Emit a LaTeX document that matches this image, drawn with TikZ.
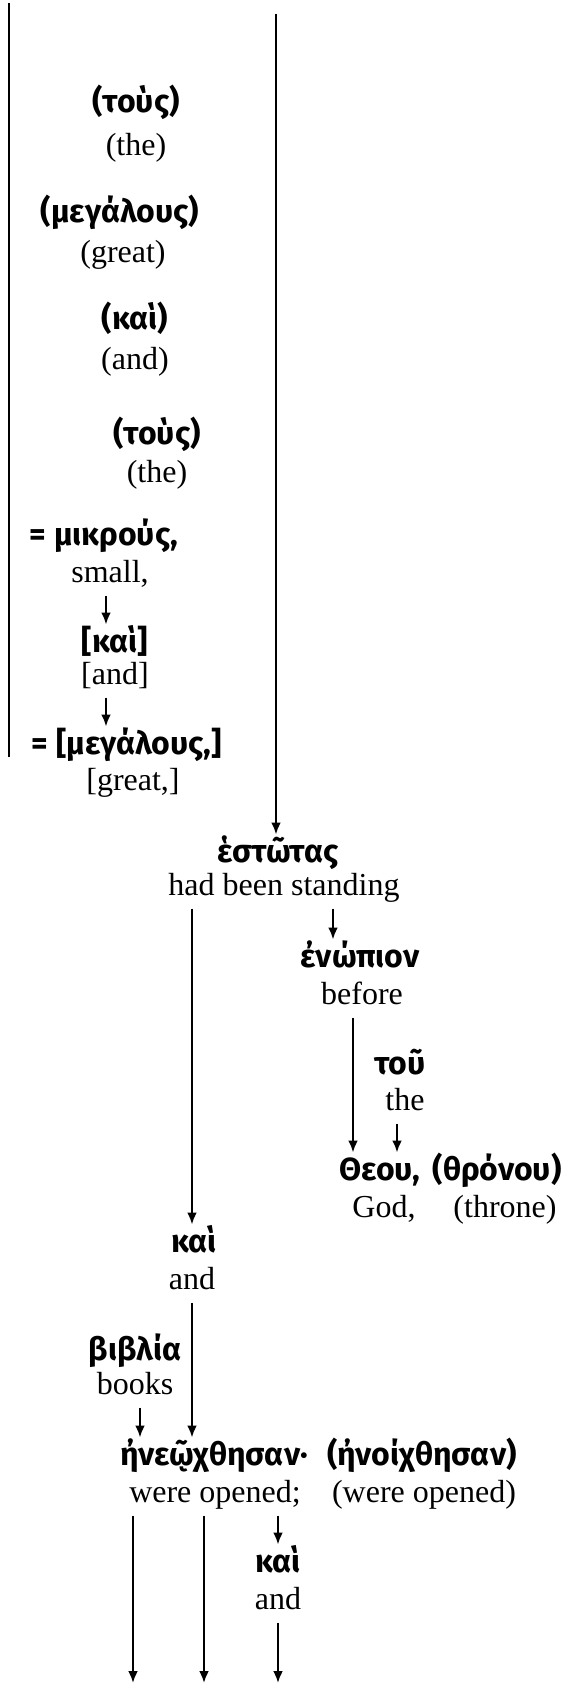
\documentclass[tikz,border=0pt]{standalone}
\usepackage{fontspec}
\setmainfont{Liberation Serif}
\newfontfamily\gk{Fira Sans}
\usetikzlibrary{arrows.meta}
\tikzset{gr/.style={font=\gk\bfseries\fontsize{16}{18}\selectfont, inner sep=0pt, outer ysep=3pt, text height=11pt, text depth=3.5pt},
         en/.style={font=\fontsize{16}{18}\selectfont, inner sep=0pt, outer ysep=3pt, text height=11pt, text depth=3.5pt},
         link/.style={line width=1.4pt},
         arr/.style={line width=1.4pt, -{Latex[length=6pt,width=5pt]}}}

\begin{document}
\begin{tikzpicture}[x=0.5pt,y=-0.5pt]
    \useasboundingbox (0,0) rectangle (562,1685);
    \node[gr] (tousA) at (136,105) {(τοὺς)};
    \node[en] (tousAe) at (136,148) {(the)};
    \node[gr] (megA) at (120,215) {(μεγάλους)};
    \node[en] (megAe) at (123,255) {(great)};
    \node[gr] (kaiA) at (135,322) {(καὶ)};
    \node[en] (kaiAe) at (135,362) {(and)};
    \node[gr] (tousB) at (157,437) {(τοὺς)};
    \node[en] (tousBe) at (157,475) {(the)};
    \node[gr] (mikrous) at (104,538) {= μικρούς,};
    \node[en] (mikrouse) at (110,575) {small,};
    \node[gr] (kaiB) at (115,645) {[καὶ]};
    \node[en] (kaiBe) at (115,677) {[and]};
    \node[gr] (megB) at (127,747) {= [μεγάλους,]};
    \node[en] (megBe) at (133,783) {[great,]};
    \node[gr] (estotas) at (278,855) {ἑστῶτας};
    \node[en] (estotase) at (284,888) {had been standing};
    \node[gr] (enopion) at (360,960) {ἐνώπιον};
    \node[en] (enopione) at (362,997) {before};
    \node[gr] (tou) at (400,1067) {τοῦ};
    \node[en] (toue) at (405,1103) {the};
    \node[gr] (theou) at (380,1173) {Θεου,};
    \node[en] (theoue) at (384,1210) {God,};
    \node[gr] (thronou) at (497,1173) {(θρόνου)};
    \node[en] (thronoue) at (505,1210) {(throne)};
    \node[gr] (kaiC) at (194,1245) {καὶ};
    \node[en] (kaiCe) at (192,1282) {and};
    \node[gr] (biblia) at (135,1353) {βιβλία};
    \node[en] (bibliae) at (135,1387) {books};
    \node[gr] (eneo) at (214,1458) {ἠνεῷχθησαν·};
    \node[en] (eneoe) at (215,1495) {were opened;};
    \node[gr] (enoi) at (422,1458) {(ἠνοίχθησαν)};
    \node[en] (enoie) at (424,1495) {(were opened)};
    \node[gr] (kaiD) at (278,1565) {καὶ};
    \node[en] (kaiDe) at (278,1602) {and};

    \coordinate (topL) at (9,3);
    \coordinate (endL) at (9,757);
    \coordinate (topR) at (276,14);
    \draw[link] (topL) -- (endL);
    \draw[arr] (topR) -- (topR |- estotas.north);
    \draw[arr] ([xshift=-2pt]mikrouse.south) -- ([xshift=-2pt]mikrouse.south |- kaiB.north);
    \draw[arr] ([xshift=-4.5pt]kaiBe.south) -- ([xshift=-4.5pt]kaiBe.south |- megB.north);
    \draw[arr] (kaiCe.north |- estotase.south) -- (kaiCe.north |- kaiC.north);
    \draw[arr] ([xshift=-13.5pt]enopion.north |- estotase.south) -- ([xshift=-13.5pt]enopion.north);
    \draw[arr] ([xshift=-4.5pt]enopione.south) -- ([xshift=-4.5pt]enopione.south |- theou.north);
    \draw[arr] ([xshift=-4pt]toue.south) -- ([xshift=-4pt]toue.south |- theou.north);
    \draw[arr] (kaiCe.south) -- (kaiCe.south |- eneo.north);
    \draw[arr] ([xshift=2.5pt]bibliae.south) -- ([xshift=2.5pt]bibliae.south |- eneo.north);
    \draw[arr] (kaiD.north |- eneoe.south) -- (kaiD.north);
    \foreach \x/\n in {133/a,204/b,278/c}{
        \coordinate (end\n) at (\x,1683);
    }
    \draw[arr] (enda |- eneoe.south) -- (enda);
    \draw[arr] (endb |- eneoe.south) -- (endb);
    \draw[arr] (kaiDe.south) -- (endc);
\end{tikzpicture}
\end{document}
